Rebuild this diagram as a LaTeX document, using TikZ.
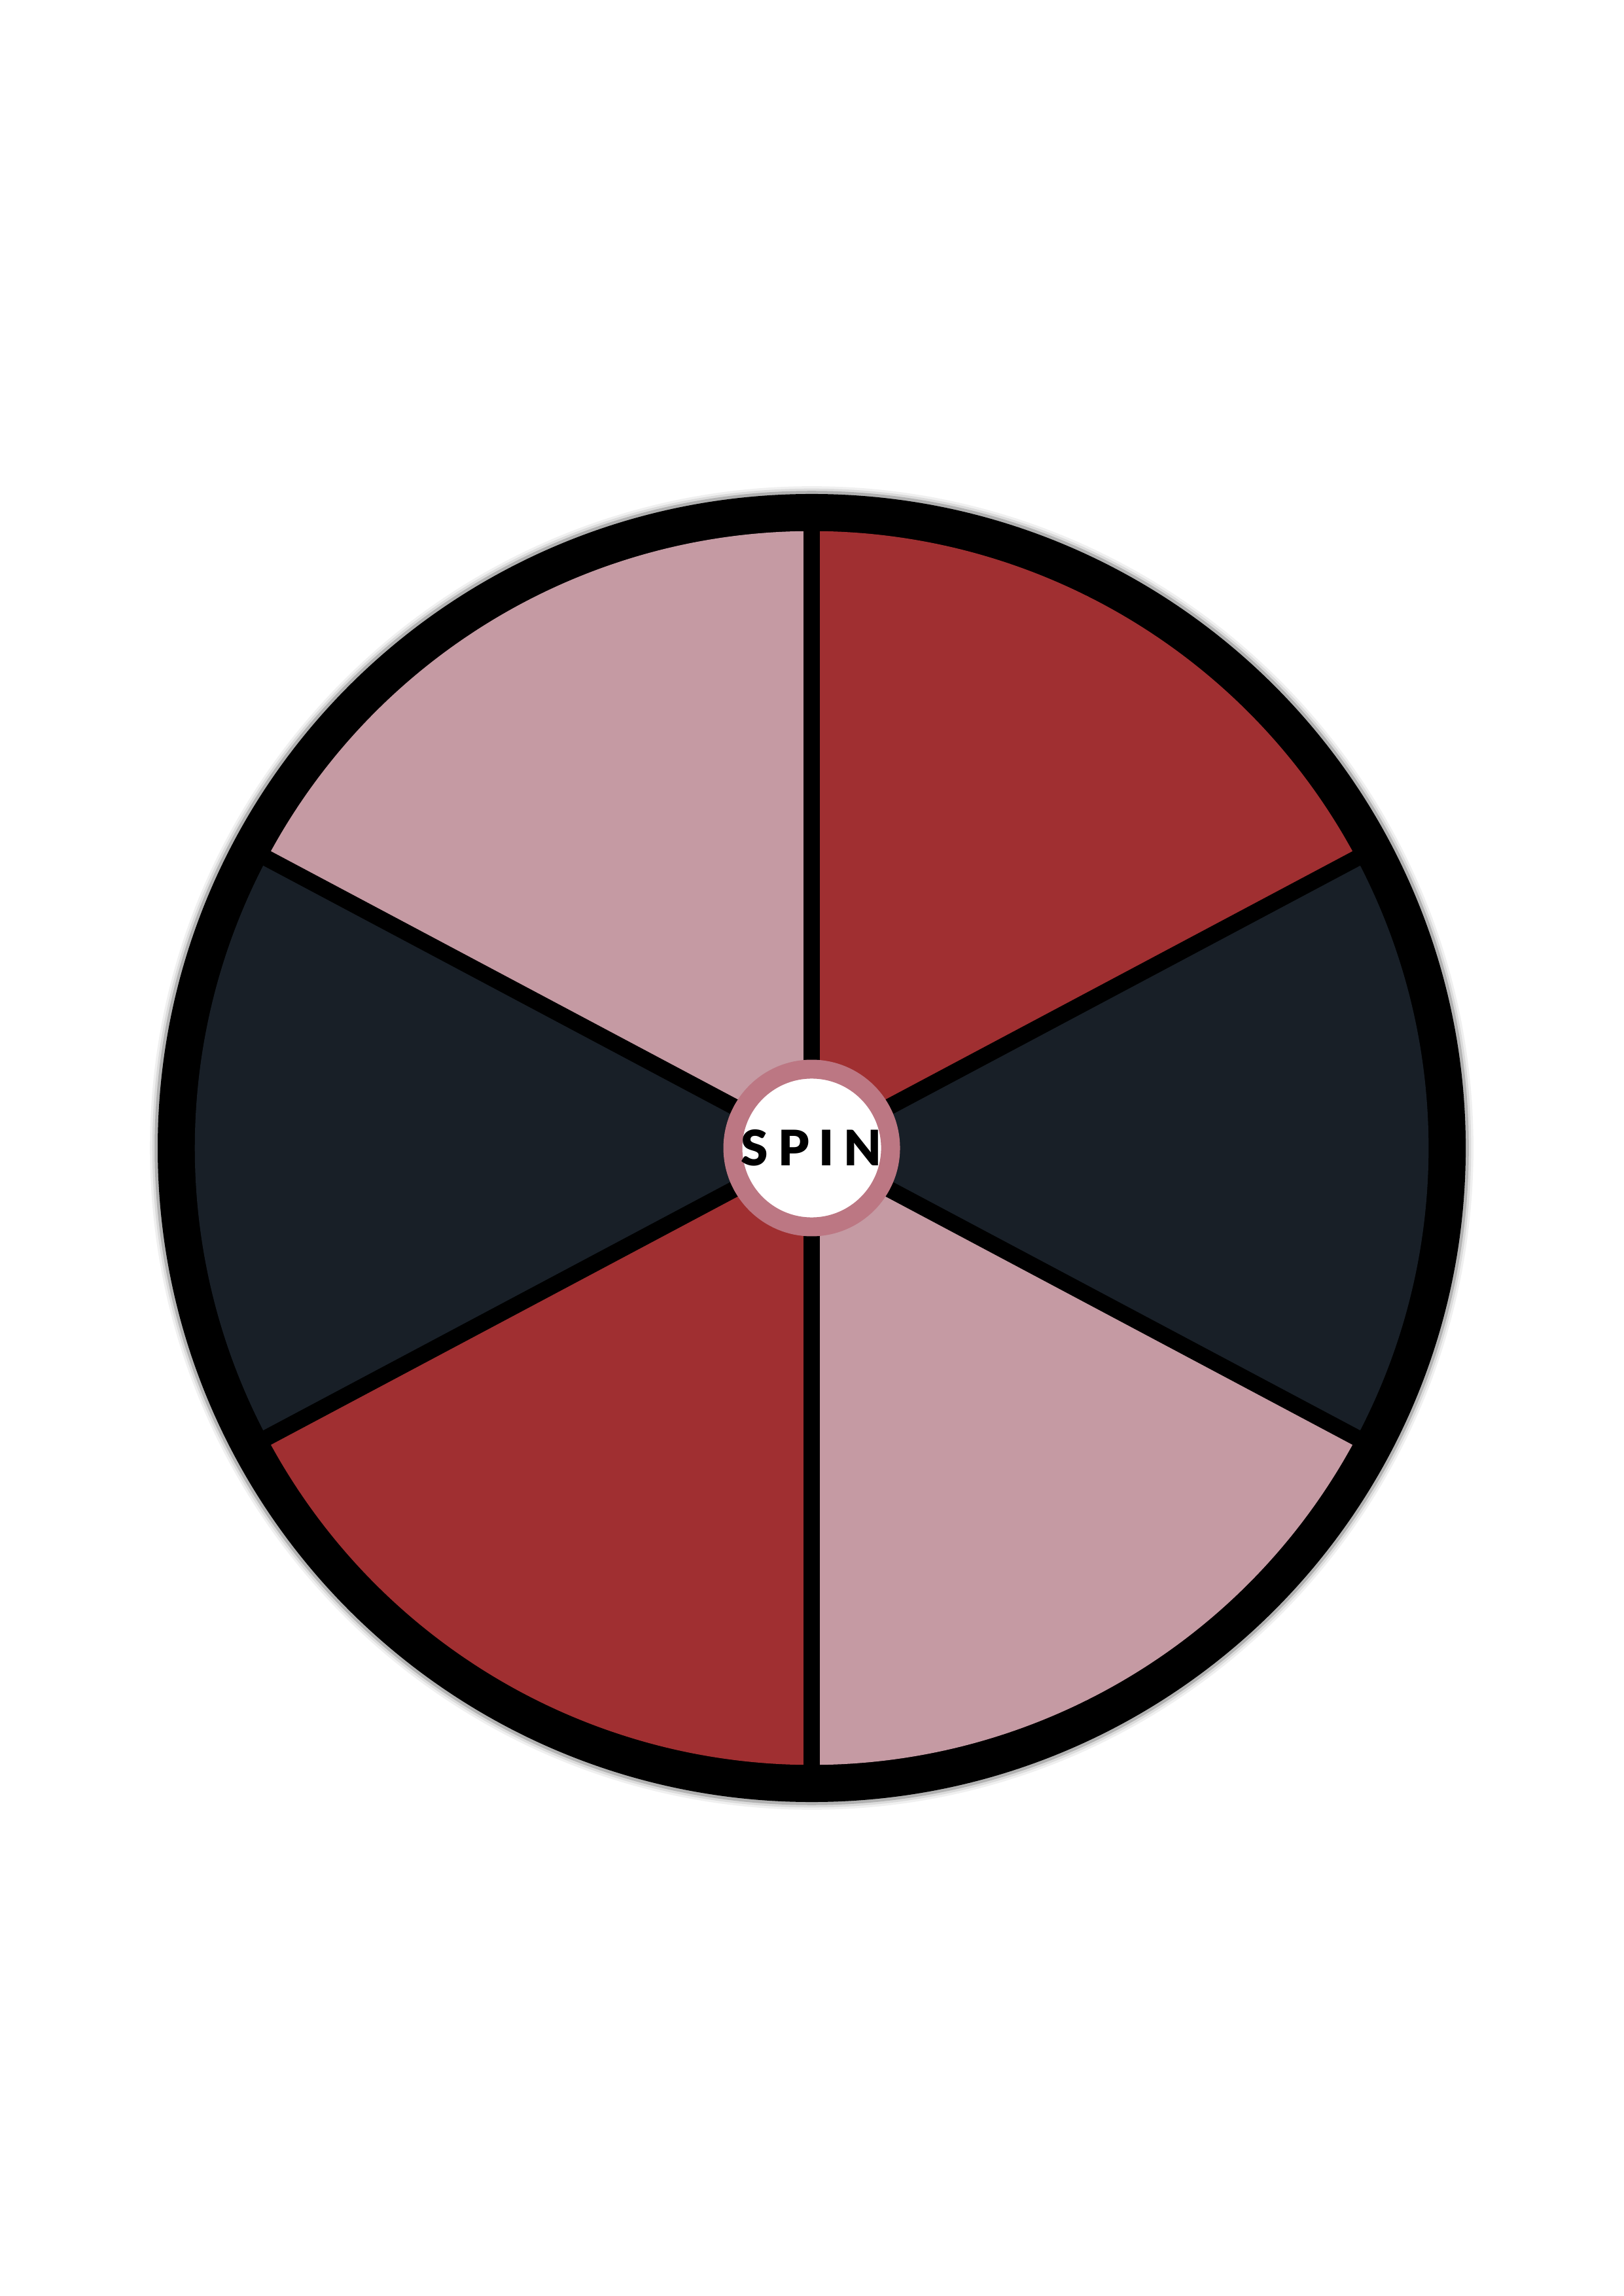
\documentclass[tikz,border=0pt]{standalone}
\usepackage{fontspec}
\usepackage{tikz}
\usetikzlibrary{positioning}
\newfontfamily\spinfont[LetterSpace=20,BoldFont={Lato Black}]{Lato}
\definecolor{wheelblush}{HTML}{C59AA3}
\definecolor{wheelred}{HTML}{A02F31}
\definecolor{wheelnavy}{HTML}{181F27}
\definecolor{wheelrose}{HTML}{BC7783}
\tikzset{
  wheelrim/.style={fill=black},
  wheelslice/.style={draw=none},
  wheelspoke/.style={
    draw=black,
    line width=0.21cm,
    line cap=butt
  },
  hubbox/.style={
    circle,
    fill=white,
    draw=wheelrose,
    line width=0.245cm,
    minimum size=2.04cm,
    inner sep=0pt,
    font=\spinfont\bfseries\fontsize{18}{18}\selectfont
  }
}

\begin{document}
\begin{tikzpicture}[x=1cm,y=1cm]
\useasboundingbox (-10.5,-14.85) rectangle (10.5,14.85);
\fill[white] (-10.5,-14.85) rectangle (10.5,14.85);

% soft edge round the rim
\foreach \r/\g in {8.56/6,8.53/14,8.50/30}
  \fill[black!\g] (0,0) circle (\r);
\fill[wheelrim] (0,0) circle (8.46);

% slices
\foreach \a/\b/\c in {90/152/wheelblush, 152/208/wheelnavy, 208/270/wheelred,
                     270/332/wheelblush, 332/388/wheelnavy, 28/90/wheelred}
  \fill[wheelslice, \c] (0,0) -- (\a:7.98) arc[start angle=\a, end angle=\b, radius=7.98] -- cycle;

\coordinate (axle) at (0,0);
\foreach \a [count=\i] in {90,152,208,270,332,28}
  \coordinate (rim\i) at (\a:8.2);
\foreach \i in {1,...,6}
  \draw[wheelspoke] (axle) -- (rim\i);

\node[hubbox] (hub) at (axle) {SPIN};
\end{tikzpicture}
\end{document}
